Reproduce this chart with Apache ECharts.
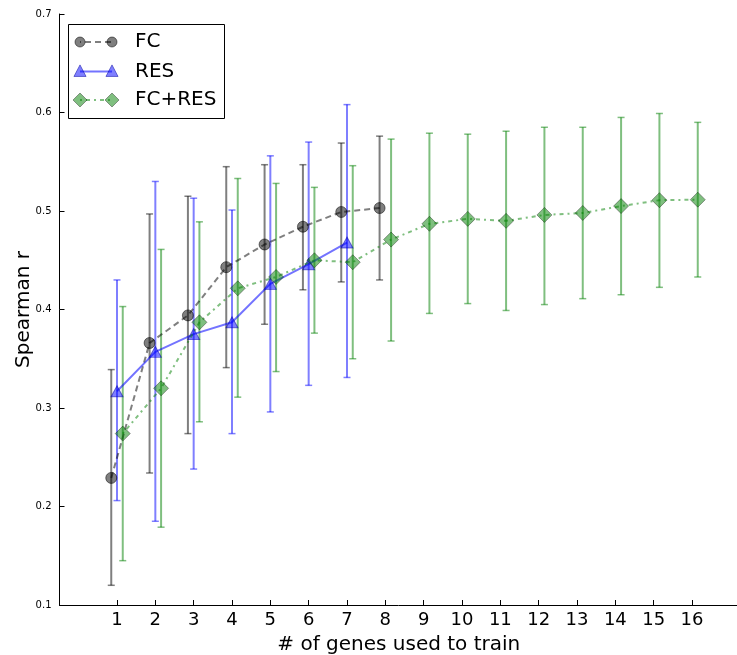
<!DOCTYPE html>
<html>
<head>
<meta charset="utf-8">
<script src="https://cdn.jsdelivr.net/npm/echarts@6/dist/echarts.min.js"></script>
<style>
html,body{margin:0;padding:0;background:#fff;}
#chart{width:737px;height:655px;}
</style>
</head>
<body>
<div id="chart"></div>
<script>
// ---- data ----
const xTicks = [1,2,3,4,5,6,7,8,9,10,11,12,13,14,15,16];
const yTicks = [0.1,0.2,0.3,0.4,0.5,0.6,0.7];

const fcGenes = [1,2,3,4,5,6,7,8];
const fcMean  = [0.229,0.366,0.394,0.443,0.466,0.484,0.499,0.503];
const fcLow   = [0.120,0.234,0.274,0.341,0.385,0.420,0.428,0.430];
const fcHigh  = [0.339,0.497,0.515,0.545,0.547,0.547,0.569,0.576];

const resGenes = [1,2,3,4,5,6,7];
const resMean  = [0.317,0.357,0.375,0.387,0.426,0.446,0.468];
const resLow   = [0.206,0.185,0.238,0.274,0.296,0.323,0.331];
const resHigh  = [0.430,0.530,0.513,0.501,0.556,0.570,0.608];

const comboGenes = [1,2,3,4,5,6,7,8,9,10,11,12,13,14,15,16];
const comboMean  = [0.274,0.320,0.387,0.4215,0.433,0.450,0.448,0.471,0.487,0.492,0.490,0.496,0.498,0.505,0.511,0.5115];
const comboLow   = [0.145,0.179,0.286,0.311,0.337,0.376,0.350,0.368,0.396,0.406,0.399,0.405,0.411,0.415,0.4225,0.433];
const comboHigh  = [0.403,0.461,0.489,0.533,0.528,0.524,0.546,0.573,0.579,0.578,0.581,0.585,0.585,0.595,0.599,0.590];

const seriesNames = ['FC','RES','FC+RES'];

// ---- styling ----
const FONT = 'DejaVu Sans';
const C_FC = 'rgba(0,0,0,0.5)';
const C_RES = 'rgba(0,0,255,0.5)';
const C_CMB = 'rgba(0,128,0,0.5)';
const OFF = {FC:-0.15, RES:0, CMB:0.15};

function errData(genes, low, high, off){
  return genes.map((g,i)=>[g+off, low[i], high[i]]);
}
function lineData(genes, mean, off){
  return genes.map((g,i)=>[g+off, mean[i]]);
}
function errRenderer(color){
  return function(params, api){
    const x = api.value(0), lo = api.value(1), hi = api.value(2);
    const p1 = api.coord([x, lo]), p2 = api.coord([x, hi]);
    const cap = 3.5;
    return {type:'group', children:[
      {type:'line', shape:{x1:p1[0],y1:p1[1],x2:p2[0],y2:p2[1]}, style:{stroke:color,lineWidth:2}},
      {type:'line', shape:{x1:p1[0]-cap,y1:p1[1],x2:p1[0]+cap,y2:p1[1]}, style:{stroke:color,lineWidth:1.5}},
      {type:'line', shape:{x1:p2[0]-cap,y1:p2[1],x2:p2[0]+cap,y2:p2[1]}, style:{stroke:color,lineWidth:1.5}}
    ]};
  };
}

const chart = echarts.init(document.getElementById('chart'), null, {renderer:'canvas'});

// legend drawn as graphic (matplotlib style: marker - line - marker)
const LX0 = 80, LX1 = 112, LTX = 135;
const LY = [42, 71.5, 100];
function tri(cx, cy, s){ return [[cx, cy - s*0.6],[cx + s*0.55, cy + s*0.45],[cx - s*0.55, cy + s*0.45]]; }
function dia(cx, cy, s){ return [[cx, cy - s],[cx + s, cy],[cx, cy + s],[cx - s, cy]]; }
const legendGraphic = [
  {type:'rect', shape:{x:68.5,y:24.5,width:156,height:94}, style:{fill:'#fff',stroke:'#000',lineWidth:1}, z:100},
  // FC
  {type:'line', shape:{x1:LX0,y1:LY[0],x2:LX1,y2:LY[0]}, style:{stroke:C_FC,lineWidth:2,lineDash:[6,4],lineDashOffset:-5}, z:101},
  {type:'circle', shape:{cx:LX0,cy:LY[0],r:5}, style:{fill:C_FC,stroke:C_FC,lineWidth:1}, z:102},
  {type:'circle', shape:{cx:LX1,cy:LY[0],r:5}, style:{fill:C_FC,stroke:C_FC,lineWidth:1}, z:102},
  {type:'text', x:LTX, y:LY[0], style:{text:seriesNames[0], font:'20px "DejaVu Sans"', fill:'#000', textVerticalAlign:'middle'}, z:102},
  // RES
  {type:'line', shape:{x1:LX0,y1:LY[1],x2:LX1,y2:LY[1]}, style:{stroke:'rgba(0,0,255,0.55)',lineWidth:2}, z:101},
  {type:'polygon', shape:{points:tri(LX0,LY[1],11)}, style:{fill:C_RES,stroke:'rgba(0,0,160,0.5)',lineWidth:1}, z:102},
  {type:'polygon', shape:{points:tri(LX1,LY[1],11)}, style:{fill:C_RES,stroke:'rgba(0,0,160,0.5)',lineWidth:1}, z:102},
  {type:'text', x:LTX, y:LY[1], style:{text:seriesNames[1], font:'20px "DejaVu Sans"', fill:'#000', textVerticalAlign:'middle'}, z:102},
  // FC+RES
  {type:'line', shape:{x1:LX0,y1:LY[2],x2:LX1,y2:LY[2]}, style:{stroke:C_CMB,lineWidth:2,lineDash:[2,4,4,4]}, z:101},
  {type:'polygon', shape:{points:dia(LX0,LY[2],7)}, style:{fill:C_CMB,stroke:'rgba(0,0,0,0.35)',lineWidth:1}, z:102},
  {type:'polygon', shape:{points:dia(LX1,LY[2],7)}, style:{fill:C_CMB,stroke:'rgba(0,0,0,0.35)',lineWidth:1}, z:102},
  {type:'text', x:LTX, y:LY[2], style:{text:seriesNames[2], font:'20px "DejaVu Sans"', fill:'#000', textVerticalAlign:'middle'}, z:102}
];

const option = {
  animation:false,
  backgroundColor:'#fff',
  textStyle:{fontFamily:FONT},
  grid:{left:59.5, top:14, height:591, width:678.5, containLabel:false, outerBoundsMode:'none'},
  xAxis:{
    type:'value', min:-0.5, max:17.2,
    name:'# of genes used to train', nameLocation:'middle', nameGap:30, nameMoveOverlap:false,
    nameTextStyle:{fontFamily:FONT, fontSize:20, color:'#000'},
    axisLine:{show:true, onZero:false, lineStyle:{color:'#000', width:1}},
    axisTick:{show:true, inside:true, length:5, customValues:xTicks, lineStyle:{color:'#000'}},
    axisLabel:{show:true, customValues:xTicks, fontFamily:FONT, fontSize:18, color:'#000', margin:6},
    splitLine:{show:false}
  },
  yAxis:{
    type:'value', min:0.1, max:0.7, interval:0.1,
    name:'Spearman r', nameLocation:'middle', nameGap:26, nameRotate:90, nameMoveOverlap:false,
    nameTextStyle:{fontFamily:FONT, fontSize:20, color:'#000'},
    axisLine:{show:true, onZero:false, lineStyle:{color:'#000', width:1}},
    axisTick:{show:true, inside:true, length:5, lineStyle:{color:'#000'}},
    axisLabel:{show:true, fontFamily:FONT, fontSize:10, color:'#000', margin:8,
      formatter:function(v){ return v.toFixed(1); }},
    splitLine:{show:false}
  },
  graphic: legendGraphic,
  series:[
    {type:'custom', name:'FC err', renderItem:errRenderer(C_FC), data:errData(fcGenes,fcLow,fcHigh,OFF.FC), encode:{x:0,y:[1,2]}, z:2, silent:true},
    {type:'custom', name:'RES err', renderItem:errRenderer(C_RES), data:errData(resGenes,resLow,resHigh,OFF.RES), encode:{x:0,y:[1,2]}, z:2, silent:true},
    {type:'custom', name:'FC+RES err', renderItem:errRenderer(C_CMB), data:errData(comboGenes,comboLow,comboHigh,OFF.CMB), encode:{x:0,y:[1,2]}, z:2, silent:true},
    {type:'line', name:seriesNames[0], data:lineData(fcGenes,fcMean,OFF.FC), z:3,
      symbol:'circle', symbolSize:11, showSymbol:true,
      lineStyle:{color:C_FC, width:2, type:[6,4]},
      itemStyle:{color:C_FC, borderColor:C_FC, borderWidth:1, opacity:1}},
    {type:'line', name:seriesNames[1], data:lineData(resGenes,resMean,OFF.RES), z:4,
      symbol:'triangle', symbolSize:[12,11], showSymbol:true,
      lineStyle:{color:'rgba(0,0,255,0.55)', width:2, type:'solid'},
      itemStyle:{color:C_RES, borderColor:'rgba(0,0,160,0.5)', borderWidth:1, opacity:1}},
    {type:'line', name:seriesNames[2], data:lineData(comboGenes,comboMean,OFF.CMB), z:5,
      symbol:'diamond', symbolSize:[15,15], showSymbol:true,
      lineStyle:{color:C_CMB, width:2, type:[2,4,4,4]},
      itemStyle:{color:C_CMB, borderColor:'rgba(0,0,0,0.35)', borderWidth:1, opacity:1}}
  ]
};
chart.setOption(option);
</script>
</body>
</html>
